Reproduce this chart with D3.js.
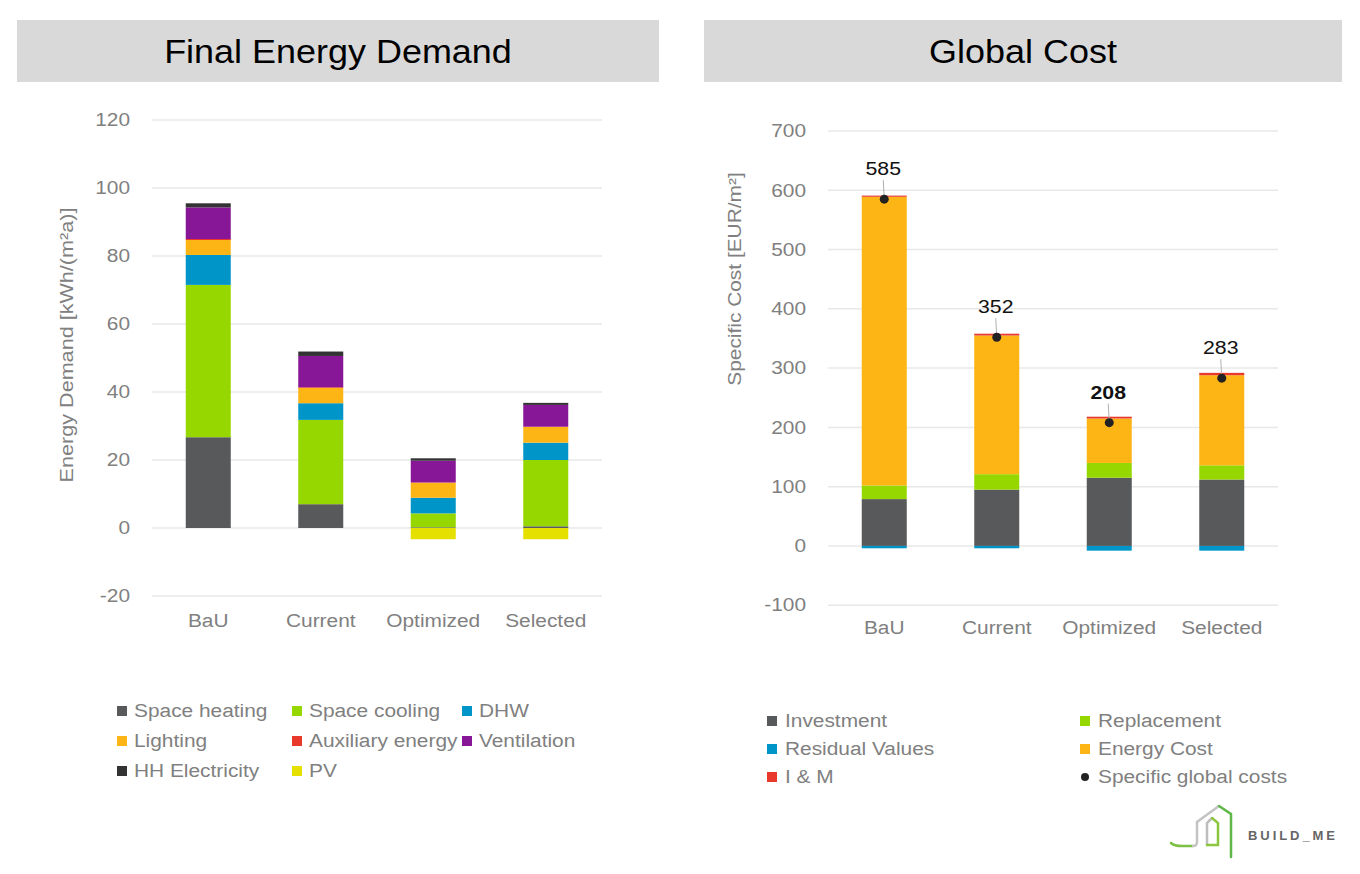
<!DOCTYPE html>
<html><head><meta charset="utf-8">
<script src="https://cdn.jsdelivr.net/npm/d3@7"></script>
<style>
body{margin:0;background:#fff;}
svg{display:block;font-family:"Liberation Sans",Arial,sans-serif;}
</style></head>
<body>
<svg id="c" width="1360" height="874"></svg>
<script>
// ---------- DATA ----------
const categories = ["BaU", "Current", "Optimized", "Selected"];

const energySeries = ["Space heating","Space cooling","DHW","Lighting","Auxiliary energy","Ventilation","HH Electricity","PV"];
const spaceHeating   = [26.7, 7.0, 0.2, 0.5];
const spaceCooling   = [44.8, 24.8, 4.1, 19.5];
const dhw            = [8.8, 4.9, 4.6, 5.1];
const lighting       = [4.4, 4.5, 4.4, 4.6];
const auxiliary      = [0.3, 0.2, 0.1, 0.1];
const ventilation    = [9.3, 9.2, 6.4, 6.4];
const hhElectricity  = [1.2, 1.3, 0.7, 0.6];
const pv             = [0, 0, -3.3, -3.3];
const energyTicks    = [-20, 0, 20, 40, 60, 80, 100, 120];

const costSeries = ["Investment","Replacement","Residual Values","Energy Cost","I & M"];
const investment  = [79, 95, 115, 112];
const replacement = [23, 26, 25, 24];
const residual    = [-4, -4, -8, -8];
const energyCost  = [487, 234, 75, 152];
const im          = [2, 3, 3, 4];
const globalCost  = [585, 352, 208, 283];
const costTicks   = [-100, 0, 100, 200, 300, 400, 500, 600, 700];

// ---------- STYLE ----------
const energyColors = ["#58595b","#97d700","#0095c8","#fdb515","#e8392c","#881798","#333333","#e6e000"];
const costColors = ["#58595b","#97d700","#0095c8","#fdb515","#e8392c"];
const gray = "#808080";
const SX = 1.16; // horizontal text stretch seen in the reference

const svg = d3.select("#c");

function stretch(sel, s){
  sel.each(function(){
    const x = +this.getAttribute("x") || 0;
    const prev = this.getAttribute("transform") || "";
    this.setAttribute("transform", `${prev} translate(${x},0) scale(${s},1) translate(${-x},0)`);
  });
}

// title boxes
function titleBox(x, w, text){
  svg.append("rect").attr("x", x).attr("y", 20).attr("width", w).attr("height", 62).attr("fill", "#d9d9d9");
  svg.append("text").attr("x", x + w/2).attr("y", 63).attr("text-anchor","middle")
    .attr("font-size", 33).attr("fill","#000").text(text).call(stretch, 1.09);
}
titleBox(17, 642, "Final Energy Demand");
titleBox(704, 638, "Global Cost");

function stackedChart(opt){
  const g = svg.append("g");
  const x = d3.scaleBand().domain(categories).range([opt.x0, opt.x1]).paddingInner(0.6).paddingOuter(0.3);
  const y = d3.scaleLinear().domain(opt.domain).range([opt.yb, opt.yt]);
  // grid
  g.selectAll(".grid").data(opt.ticks).join("line")
    .attr("x1", opt.x0).attr("x2", opt.x1)
    .attr("y1", d => y(d)).attr("y2", d => y(d))
    .attr("stroke", "#e8e8e8").attr("stroke-width", 1.5);
  // y axis
  const ya = g.append("g").attr("transform", `translate(${opt.x0 - 22},0)`)
    .call(d3.axisLeft(y).tickValues(opt.ticks).tickFormat(d => String(d)).tickSize(0).tickPadding(0));
  ya.select(".domain").remove();
  ya.selectAll("text").attr("font-size", 18).attr("fill", gray).attr("font-family","'Liberation Sans',Arial,sans-serif").call(stretch, SX);
  // x axis labels
  const xa = g.append("g").attr("transform", `translate(0,${opt.xLabelY})`)
    .call(d3.axisBottom(x).tickSize(0).tickPadding(0));
  xa.select(".domain").remove();
  xa.selectAll("text").attr("font-size", 18).attr("fill", gray).attr("font-family","'Liberation Sans',Arial,sans-serif").call(stretch, SX);
  // axis title
  g.append("text").attr("transform", `translate(${opt.titleX},${opt.titleY}) rotate(-90) scale(${opt.titleSX},1)`)
    .attr("text-anchor","middle").attr("font-size", 18).attr("fill", gray).text(opt.title);
  // stacks
  const rows = categories.map((c, i) => {
    const o = {cat: c};
    opt.series.forEach((s, j) => o[s] = opt.values[j][i]);
    return o;
  });
  const stack = d3.stack().keys(opt.order).offset(d3.stackOffsetDiverging);
  const layers = stack(rows);
  layers.forEach(layer => {
    const col = opt.colors[opt.series.indexOf(layer.key)];
    g.append("g").selectAll("rect").data(layer).join("rect")
      .attr("x", d => x(d.data.cat))
      .attr("width", x.bandwidth())
      .attr("y", d => y(Math.max(d[0], d[1])))
      .attr("height", d => Math.abs(y(d[0]) - y(d[1])))
      .attr("fill", col);
  });
  return {g, x, y};
}

// Left chart
stackedChart({
  x0: 152, x1: 602, yb: 596, yt: 120, domain: [-20, 120], ticks: energyTicks,
  xLabelY: 614, title: "Energy Demand [kWh/(m²a)]", titleX: 73, titleY: 345, titleSX: 1.2,
  series: energySeries,
  order: energySeries,
  values: [spaceHeating, spaceCooling, dhw, lighting, auxiliary, ventilation, hhElectricity, pv],
  colors: energyColors
});

// Right chart
const rc = stackedChart({
  x0: 828, x1: 1278, yb: 605.2, yt: 131, domain: [-100, 700], ticks: costTicks,
  xLabelY: 621, title: "Specific Cost [EUR/m²]", titleX: 741, titleY: 279, titleSX: 1.16,
  series: costSeries,
  order: ["Investment","Replacement","Energy Cost","I & M","Residual Values"],
  values: [investment, replacement, residual, energyCost, im],
  colors: costColors
});
// global cost dots + labels
categories.forEach((c, i) => {
  const cx = rc.x(c) + rc.x.bandwidth()/2;
  const cy = rc.y(globalCost[i]);
  rc.g.append("line").attr("x1", cx - 1).attr("x2", cx).attr("y1", cy - 19).attr("y2", cy)
    .attr("stroke", "#b0b0b0").attr("stroke-width", 1);
  rc.g.append("circle").attr("cx", cx).attr("cy", cy).attr("r", 4.5).attr("fill", "#222");
  rc.g.append("text").attr("x", cx - 1).attr("y", cy - 24).attr("text-anchor","middle")
    .attr("font-size", 19).attr("fill", "#111")
    .attr("font-weight", c === "Optimized" ? "bold" : "normal")
    .text(globalCost[i]).call(stretch, 1.12);
});

// Legends
function legend(items, colors, positions, circleIdx, gap){
  items.forEach((t, i) => {
    const p = positions[i];
    if (i === circleIdx) {
      svg.append("circle").attr("cx", p[0] + 5).attr("cy", p[1]).attr("r", 4).attr("fill", "#222");
    } else {
      svg.append("rect").attr("x", p[0]).attr("y", p[1] - 5).attr("width", 10).attr("height", 10).attr("fill", colors[i]);
    }
    svg.append("text").attr("x", p[0] + gap).attr("y", p[1] + 6.5).attr("font-size", 18).attr("fill", gray).text(t).call(stretch, SX);
  });
}
legend(energySeries, energyColors,
  [[117,711],[292,711],[462,711],[117,741],[292,741],[462,741],[117,771],[292,771]], -1, 17);
legend(["Investment","Replacement","Residual Values","Energy Cost","I & M","Specific global costs"],
  ["#58595b","#97d700","#0095c8","#fdb515","#e8392c","#222"],
  [[767,721],[1080,721],[767,749],[1080,749],[767,777],[1080,777]], 5, 18);

// Logo
const logo = svg.append("g").attr("fill","none").attr("stroke-width",2.5).attr("stroke-linecap","round");
logo.append("path").attr("d","M1171 843 Q1174 846 1182 846 L1193 846").attr("stroke","#7bc143");
logo.append("path").attr("d","M1193 846 Q1197 846 1197 842 L1197 822 L1219 806").attr("stroke","#c4c4c4");
logo.append("path").attr("d","M1219 806 L1231 814 L1231 857").attr("stroke","#5fb848");
logo.append("path").attr("d","M1207 845 L1207 823 L1212 818").attr("stroke","#bdbdbd");
logo.append("path").attr("d","M1212 818 L1218 823 L1218 845 L1207 845").attr("stroke","#8cc63f");
logo.append("text").attr("x",1248).attr("y",840).attr("font-size",13).attr("font-weight","bold")
  .attr("textLength",87).attr("lengthAdjust","spacing").attr("stroke","none")
  .attr("fill","#666").text("BUILD_ME");
</script>
</body></html>
